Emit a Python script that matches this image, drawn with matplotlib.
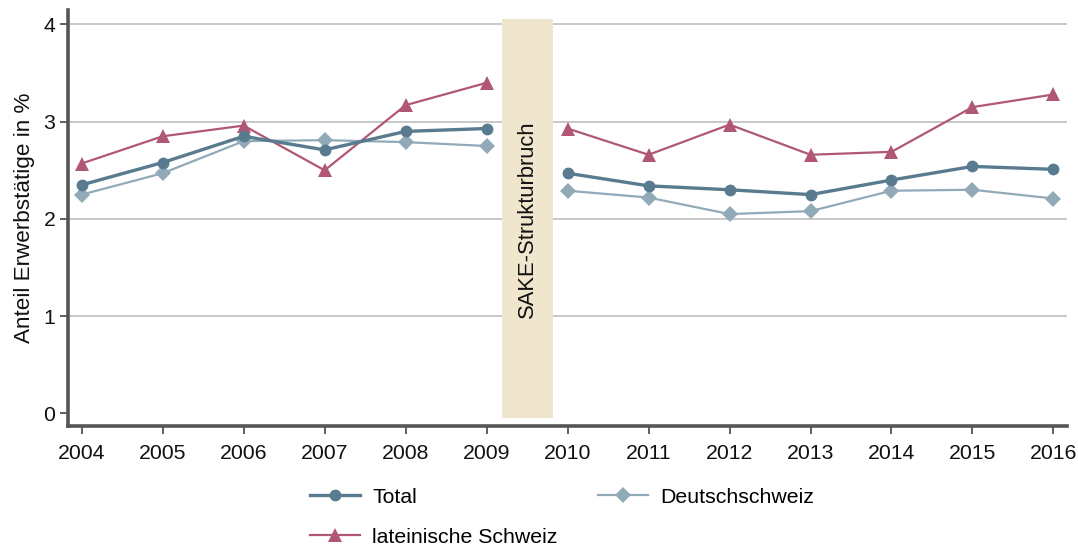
import matplotlib
matplotlib.use("Agg")
import matplotlib.pyplot as plt
from matplotlib.patches import Rectangle

plt.rcParams['font.family'] = ['Liberation Sans', 'DejaVu Sans']

years = [2004, 2005, 2006, 2007, 2008, 2009, 2010, 2011, 2012, 2013, 2014, 2015, 2016]
total = [2.35, 2.58, 2.85, 2.71, 2.90, 2.93, 2.47, 2.34, 2.30, 2.25, 2.40, 2.54, 2.51]
deutsch = [2.25, 2.47, 2.80, 2.81, 2.79, 2.75, 2.29, 2.22, 2.05, 2.08, 2.29, 2.30, 2.21]
latein = [2.57, 2.85, 2.96, 2.50, 3.17, 3.40, 2.93, 2.66, 2.97, 2.66, 2.69, 3.15, 3.28]
yticks = [0, 1, 2, 3, 4]
break_label = 'SAKE-Strukturbruch'
ylabel = 'Anteil Erwerbstätige in %'
names = ['Total', 'Deutschschweiz', 'lateinische Schweiz']

c_total = '#587b8f'
c_deutsch = '#92aab8'
c_latein = '#b05873'

fig = plt.figure(figsize=(10.78, 5.49), dpi=100)
ax = fig.add_axes([0.063, 0.224, 0.927, 0.758])

# break index between 2009 and 2010
k = years.index(2010)

ax.add_patch(Rectangle((2009.19, -0.05), 0.63, 4.105, facecolor='#f0e5cd',
                       edgecolor='none', zorder=2))
ax.text(2009.5, 2.0, break_label, rotation=90, ha='center', va='center',
        fontsize=15.8, color='#111111', zorder=3)

series = [
    (deutsch, c_deutsch, 'D', 8.5, 1.6),
    (latein, c_latein, '^', 9.5, 1.6),
    (total, c_total, 'o', 8.5, 2.4),
]
handles = {}
for vals, col, mk, ms, lw in series:
    for sl in (slice(0, k), slice(k, None)):
        h, = ax.plot(years[sl], vals[sl], color=col, marker=mk, markersize=ms,
                     linewidth=lw, markeredgewidth=0, zorder=4)
    handles[col] = h

for y in yticks[1:]:
    ax.axhline(y, color='#c4c4c4', linewidth=1.3, zorder=1)

ax.set_xlim(2003.83, 2016.17)
ax.set_ylim(-0.13, 4.15)
ax.set_xticks(years)
ax.set_yticks(yticks)
ax.tick_params(axis='both', direction='out', length=6, width=1.2, color='#444444',
               labelsize=15.3, labelcolor='#111111')
ax.tick_params(axis='x', pad=7)
ax.tick_params(axis='y', pad=3)
for s in ['top', 'right']:
    ax.spines[s].set_visible(False)
for s in ['left', 'bottom']:
    ax.spines[s].set_linewidth(2.6)
    ax.spines[s].set_color('#555555')
ax.set_ylabel(ylabel, fontsize=16.2, color='#111111', labelpad=6)

h_order = [handles[c_total], handles[c_latein], handles[c_deutsch]]
l_order = [names[0], names[2], names[1]]
fig.legend(h_order, l_order, ncol=2, loc='upper left', bbox_to_anchor=(0.2876, 0.112),
           frameon=False, fontsize=15.3, handlelength=2.35, handletextpad=0.57,
           columnspacing=1.9, labelspacing=1.0, borderaxespad=0, borderpad=0)

fig.savefig('out.png', dpi=100, facecolor='white')
